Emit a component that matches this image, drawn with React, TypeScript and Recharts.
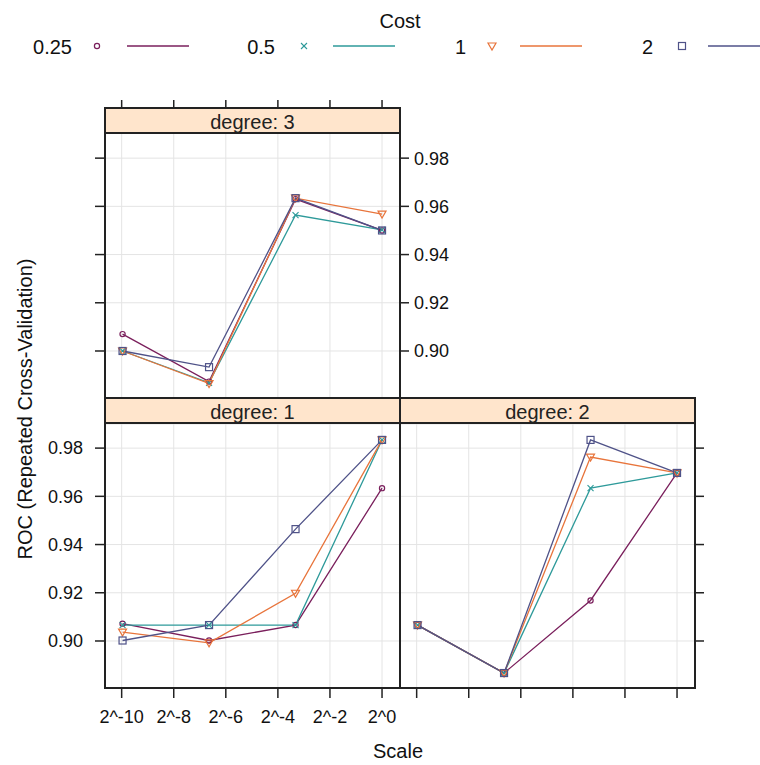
import React from "react";
import { LineChart, Line, XAxis, YAxis, CartesianGrid } from "recharts";

// tuning grid
const scales = [0.001, 0.01, 0.1, 1];
const costs = ["0.25", "0.5", "1", "2"];
const costColors = ["#7A1F5C", "#2E9A9A", "#E8743B", "#4F5288"];

// ROC by cost (rows) at each scale (columns)
const rocDegree1 = [
  [0.9072, 0.9002, 0.9066, 0.9634],
  [0.9066, 0.9066, 0.9066, 0.9834],
  [0.9037, 0.8992, 0.9198, 0.9834],
  [0.9002, 0.9066, 0.9464, 0.9834],
];
const rocDegree2 = [
  [0.9066, 0.8867, 0.9168, 0.9697],
  [0.9066, 0.8867, 0.9634, 0.9697],
  [0.9066, 0.8867, 0.9763, 0.9697],
  [0.9066, 0.8867, 0.9834, 0.9697],
];
const rocDegree3 = [
  [0.9070, 0.8873, 0.9630, 0.9500],
  [0.9000, 0.8868, 0.9564, 0.9502],
  [0.9000, 0.8865, 0.9634, 0.9568],
  [0.9000, 0.8933, 0.9634, 0.9500],
];

const xTicks = [-10, -8, -6, -4, -2, 0];
const xTickLabels = ["2^-10", "2^-8", "2^-6", "2^-4", "2^-2", "2^0"];
const yTicks = [0.9, 0.92, 0.94, 0.96, 0.98];

const X_DOMAIN: [number, number] = [-10.64, 0.69];
const Y_DOMAIN: [number, number] = [0.8805, 0.99];
const Y_DOMAIN_TOP: [number, number] = [0.8805, 1.0008]; // plot area runs under the strip

const FONT = "'Liberation Sans', Arial, sans-serif";
const INK = "#222";

function toRows(roc: number[][]) {
  return scales.map((s, i) => {
    const row: any = { x: Math.log2(s) };
    roc.forEach((series, k) => {
      row[`c${k}`] = series[i];
    });
    return row;
  });
}

function Marker({ kind, cx, cy, color }: { kind: number; cx: number; cy: number; color: string }) {
  if (kind === 0) return <circle cx={cx} cy={cy} r={2.6} fill="none" stroke={color} strokeWidth={1.2} />;
  if (kind === 1)
    return (
      <g stroke={color} strokeWidth={1.1}>
        <line x1={cx - 3} y1={cy - 3} x2={cx + 3} y2={cy + 3} />
        <line x1={cx - 3} y1={cy + 3} x2={cx + 3} y2={cy - 3} />
      </g>
    );
  if (kind === 2)
    return (
      <polygon
        points={`${cx - 4},${cy - 3} ${cx + 4},${cy - 3} ${cx},${cy + 4}`}
        fill="none"
        stroke={color}
        strokeWidth={1.2}
      />
    );
  return <rect x={cx - 3.5} y={cy - 3.5} width={7} height={7} fill="none" stroke={color} strokeWidth={1.2} />;
}

const dotFor = (kind: number) => (p: any) => {
  const { cx, cy, index } = p;
  if (cx == null || cy == null) return <g key={`d${kind}-${index}`} />;
  return (
    <g key={`d${kind}-${index}`}>
      <Marker kind={kind} cx={cx} cy={cy} color={costColors[kind]} />
    </g>
  );
};

const tickLine = { stroke: INK, strokeWidth: 1.5 };
const tickText = { fill: "#111", fontSize: 18 };
const blank = () => "";
const xLabel = (v: number) => xTickLabels[xTicks.indexOf(Math.round(v))] ?? "";

function seriesLines(yAxisId: string) {
  return costs.map((c, k) => (
    <Line
      key={c}
      yAxisId={yAxisId}
      type="linear"
      dataKey={`c${k}`}
      stroke={costColors[k]}
      strokeWidth={1.3}
      dot={dotFor(k)}
      activeDot={false}
      isAnimationActive={false}
    />
  ));
}

const Strip = ({ left, top, width, height, text }: any) => (
  <div
    style={{
      position: "absolute",
      left,
      top,
      width,
      height,
      background: "#FFE5CC",
      borderBottom: `2px solid ${INK}`,
      boxSizing: "border-box",
      overflow: "hidden",
      textAlign: "center",
      fontSize: 20,
      lineHeight: `${height + 2}px`,
      color: "#222",
    }}
  >
    {text}
  </div>
);

const Frame = ({ left, top, width, height }: any) => (
  <div
    style={{
      position: "absolute",
      left: left - 1,
      top: top - 1,
      width: width + 2,
      height: height + 2,
      border: `2px solid ${INK}`,
      boxSizing: "border-box",
      pointerEvents: "none",
    }}
  />
);

export default function App() {
  const rows1 = toRows(rocDegree1);
  const rows2 = toRows(rocDegree2);
  const rows3 = toRows(rocDegree3);

  const legendCols = [
    { textRight: 72, sym: 97, line: 127 },
    { textRight: 275, sym: 304, line: 333 },
    { textRight: 466, sym: 492, line: 520 },
    { textRight: 653, sym: 682, line: 708 },
  ];

  return (
    <div
      style={{
        position: "absolute",
        left: 0,
        top: 0,
        width: 760,
        height: 765,
        background: "#fff",
        fontFamily: FONT,
        overflow: "hidden",
      }}
    >
      {/* legend */}
      <svg width={760} height={62} style={{ position: "absolute", left: 0, top: 0 }}>
        <text x={400} y={28} textAnchor="middle" fontSize={20} fill="#111">
          Cost
        </text>
        {costs.map((c, k) => {
          const col = legendCols[k];
          return (
            <g key={c}>
              <text x={col.textRight} y={54} textAnchor="end" fontSize={20} fill="#111">
                {c}
              </text>
              <Marker kind={k} cx={col.sym} cy={46} color={costColors[k]} />
              <line x1={col.line} y1={46} x2={col.line + 62} y2={46} stroke={costColors[k]} strokeWidth={1.5} />
            </g>
          );
        })}
      </svg>

      {/* degree 3, top-left */}
      <div style={{ position: "absolute", left: 0, top: 90 }}>
        <LineChart width={460} height={308} data={rows3} margin={{ top: 0, right: 0, bottom: 0, left: 0 }}>
          <CartesianGrid yAxisId="left" stroke="#E4E4E4" />
          <XAxis
            type="number"
            dataKey="x"
            orientation="top"
            height={18}
            domain={X_DOMAIN}
            ticks={xTicks}
            allowDataOverflow
            axisLine={false}
            tickLine={tickLine}
            tickSize={8}
            tickFormatter={blank}
          />
          <YAxis
            yAxisId="left"
            orientation="left"
            width={105}
            domain={Y_DOMAIN_TOP}
            ticks={yTicks}
            allowDataOverflow
            axisLine={false}
            tickLine={tickLine}
            tickSize={10}
            tickFormatter={blank}
          />
          <YAxis
            yAxisId="right"
            orientation="right"
            width={60}
            domain={Y_DOMAIN_TOP}
            ticks={yTicks}
            allowDataOverflow
            axisLine={false}
            tickLine={tickLine}
            tickSize={9}
            tickMargin={5}
            tick={tickText}
            tickFormatter={(v: number) => v.toFixed(2)}
          />
          {seriesLines("left")}
        </LineChart>
      </div>

      {/* degree 1, bottom-left */}
      <div style={{ position: "absolute", left: 0, top: 424 }}>
        <LineChart width={400} height={324} data={rows1} margin={{ top: 0, right: 0, bottom: 0, left: 0 }}>
          <CartesianGrid stroke="#E4E4E4" />
          <XAxis
            type="number"
            dataKey="x"
            height={60}
            domain={X_DOMAIN}
            ticks={xTicks}
            allowDataOverflow
            axisLine={false}
            tickLine={tickLine}
            tickSize={10}
            tickMargin={12}
            tick={tickText}
            tickFormatter={xLabel}
            interval={0}
          />
          <YAxis
            width={105}
            domain={Y_DOMAIN}
            ticks={yTicks}
            allowDataOverflow
            axisLine={false}
            tickLine={tickLine}
            tickSize={10}
            tickMargin={12}
            tick={tickText}
            tickFormatter={(v: number) => v.toFixed(2)}
          />
          {seriesLines("0")}
        </LineChart>
      </div>

      {/* degree 2, bottom-right */}
      <div style={{ position: "absolute", left: 400, top: 424 }}>
        <LineChart width={325} height={324} data={rows2} margin={{ top: 0, right: 0, bottom: 0, left: 0 }}>
          <CartesianGrid stroke="#E4E4E4" />
          <XAxis
            type="number"
            dataKey="x"
            height={60}
            domain={X_DOMAIN}
            ticks={xTicks}
            allowDataOverflow
            axisLine={false}
            tickLine={tickLine}
            tickSize={10}
            tickFormatter={blank}
          />
          <YAxis
            orientation="right"
            width={30}
            domain={Y_DOMAIN}
            ticks={yTicks}
            allowDataOverflow
            axisLine={false}
            tickLine={tickLine}
            tickSize={9}
            tickFormatter={blank}
          />
          {seriesLines("0")}
        </LineChart>
      </div>

      {/* strips and panel frames */}
      <Strip left={105} top={108} width={295} height={26} text="degree: 3" />
      <Strip left={105} top={398} width={295} height={26} text="degree: 1" />
      <Strip left={400} top={398} width={295} height={26} text="degree: 2" />
      <Frame left={105} top={108} width={295} height={290} />
      <Frame left={105} top={398} width={295} height={290} />
      <Frame left={400} top={398} width={295} height={290} />

      {/* axis titles */}
      <div
        style={{
          position: "absolute",
          left: 298,
          top: 740,
          width: 200,
          textAlign: "center",
          fontSize: 20,
          color: "#111",
        }}
      >
        Scale
      </div>
      <div
        style={{
          position: "absolute",
          left: 25 - 200,
          top: 409 - 12,
          width: 400,
          height: 24,
          lineHeight: "24px",
          textAlign: "center",
          fontSize: 20,
          color: "#111",
          transform: "rotate(-90deg)",
          transformOrigin: "200px 12px",
          whiteSpace: "nowrap",
        }}
      >
        ROC (Repeated Cross-Validation)
      </div>
    </div>
  );
}
